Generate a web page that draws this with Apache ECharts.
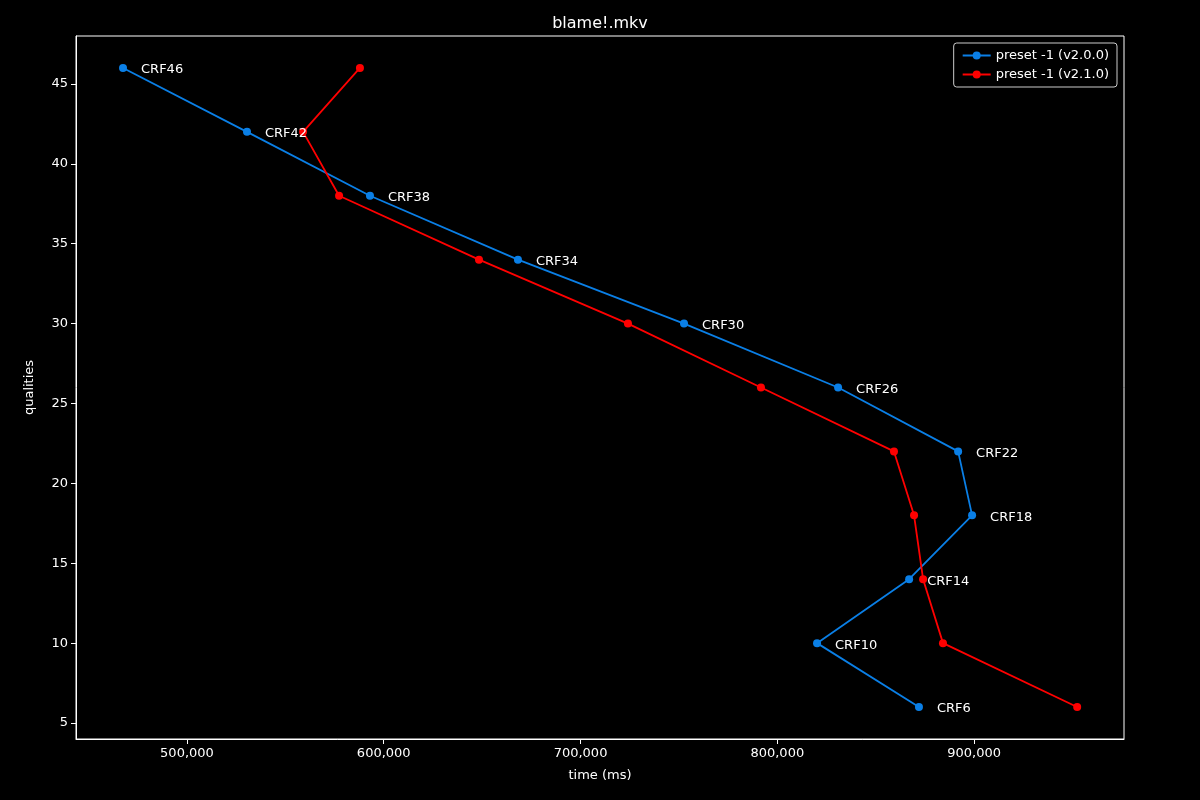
<!DOCTYPE html>
<html>
<head>
<meta charset="utf-8">
<title>blame!.mkv</title>
<script src="https://cdn.jsdelivr.net/npm/echarts@6/dist/echarts.min.js"></script>
<style>
    html, body { margin: 0; padding: 0; background: #000; }
    #main { width: 1200px; height: 800px; }
</style>
</head>
<body>
<div id="main"></div>
<script>
    // quality levels (CRF) and measured times
    var qualities = [46, 42, 38, 34, 30, 26, 22, 18, 14, 10, 6];
    var crfLabels = ['CRF46', 'CRF42', 'CRF38', 'CRF34', 'CRF30', 'CRF26', 'CRF22', 'CRF18', 'CRF14', 'CRF10', 'CRF6'];
    var timeV200 = [467500, 530500, 593000, 668200, 752600, 830900, 891900, 899000, 867000, 820200, 872000];
    var timeV210 = [587900, 559000, 577300, 648400, 724100, 791700, 859300, 869500, 874100, 884200, 952400];

    function pairs(xs, withLabel) {
        return xs.map(function (x, i) {
            var p = { value: [x, qualities[i]] };
            if (withLabel) p.name = crfLabels[i];
            return p;
        });
    }

    var myChart = echarts.init(document.getElementById('main'));
    var white = '#ffffff';

    myChart.setOption({
        backgroundColor: '#000',
        animation: false,
        textStyle: { fontFamily: 'DejaVu Sans' },
        title: {
            text: 'blame!.mkv', left: 'center', top: 11,
            textStyle: { color: white, fontSize: 16, fontWeight: 'normal' }
        },
        legend: {
            top: 43, right: 83, orient: 'vertical',
            backgroundColor: '#000', borderColor: '#cccccc', borderWidth: 1, borderRadius: 3,
            padding: [6, 8], itemGap: 6, itemWidth: 28, itemHeight: 10,
            textStyle: { color: white, fontSize: 13 },
            data: ['preset -1 (v2.0.0)', 'preset -1 (v2.1.0)']
        },
        grid: { left: 76, right: 76, top: 36, bottom: 61, show: true, borderColor: white, borderWidth: 1 },
        xAxis: {
            type: 'value', min: 443600, max: 976200,
            name: 'time (ms)', nameLocation: 'middle', nameGap: 30,
            nameTextStyle: { color: white, fontSize: 13 },
            axisLine: { show: true, lineStyle: { color: white } },
            axisTick: { show: true, lineStyle: { color: white } },
            axisLabel: { color: white, fontSize: 13, showMinLabel: false, showMaxLabel: false },
            splitLine: { show: false }
        },
        yAxis: {
            type: 'value', min: 4, max: 48, splitNumber: 9,
            name: 'qualities', nameLocation: 'middle', nameGap: 40,
            nameTextStyle: { color: white, fontSize: 13 },
            axisLine: { show: true, lineStyle: { color: white } },
            axisTick: { show: true, lineStyle: { color: white } },
            axisLabel: { color: white, fontSize: 13, showMinLabel: false, showMaxLabel: false },
            splitLine: { show: false }
        },
        series: [{
            name: 'preset -1 (v2.0.0)', type: 'line',
            data: pairs(timeV200, true),
            color: '#0a7fe6', symbol: 'circle', symbolSize: 8,
            lineStyle: { width: 1.8 },
            label: {
                show: true, position: 'right', distance: 14, offset: [0, 2],
                color: white, fontSize: 13,
                formatter: function (p) { return p.name; }
            }
        }, {
            name: 'preset -1 (v2.1.0)', type: 'line',
            data: pairs(timeV210, false),
            color: '#ff0000', symbol: 'circle', symbolSize: 8,
            lineStyle: { width: 1.8 }
        }]
    });
</script>
</body>
</html>
